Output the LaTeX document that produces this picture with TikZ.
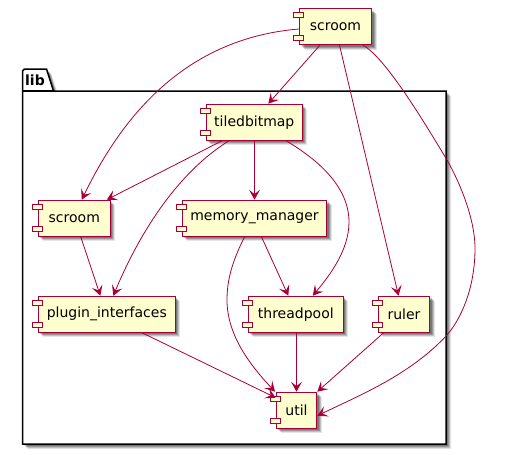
\documentclass[tikz,border=0pt]{standalone}
\usepackage{fontspec}
\setmainfont{DejaVu Sans}
\usetikzlibrary{arrows.meta,calc,shadows}
\definecolor{umlred}{HTML}{A80036}
\definecolor{umlfill}{HTML}{FEFECE}
\tikzset{
  softshadow/.style={
    general shadow={shadow xshift=2pt,shadow yshift=-2pt,fill=black,opacity=0.22},
    general shadow={shadow xshift=3pt,shadow yshift=-3pt,fill=black,opacity=0.2},
    general shadow={shadow xshift=4pt,shadow yshift=-4pt,fill=black,opacity=0.16},
    general shadow={shadow xshift=5pt,shadow yshift=-5pt,fill=black,opacity=0.1}},
  comp/.style={draw=umlred,fill=umlfill,line width=1.2pt,inner sep=0pt,
    minimum height=36pt,softshadow},
  comptab/.style={draw=umlred,fill=umlfill,line width=0.9pt},
  dep/.style={draw=umlred,line width=0.8pt,-{Stealth[length=10pt,width=11pt,inset=4.5pt]}},
}

\begin{document}
\begin{tikzpicture}[x=1pt,y=-1pt,font=\fontsize{14}{16}\selectfont]
  \useasboundingbox (0,0) rectangle (522,455);
  % package lib, tab first and then the line under it
  \draw[line width=1.5pt,fill=white,softshadow] (22.5,91) -- (22.5,71) -- (24.5,69) -- (46.5,69)
    -- (53.5,91) -- (446,91) -- (446,444) -- (22.5,444) -- cycle;
  \draw[line width=1.5pt] (22.5,91) -- (53.5,91);
  \node[font=\fontsize{14}{16}\selectfont\bfseries] (libname) at (35,80.5) {lib};
  % components: name/center x/center y/width/label
  \foreach \nm/\cx/\cy/\bw/\lb in {scroomtop/335.5/26.5/72/scroom,
      tiledbitmap/254.3/122.3/96/tiledbitmap,
      scroomlib/74.3/218.3/72/scroom,
      memorymanager/254.5/218.3/144.4/memory\_manager,
      plugininterfaces/106.8/314.3/137/plugin\_interfaces,
      threadpool/295.8/314.3/95/threadpool,
      ruler/404/314.3/51.4/ruler,
      util/296.5/410.3/40.4/util}
    \node[comp,minimum width=\bw pt] (\nm) at (\cx,\cy) {\lb};
  % the two small tabs on the left side
  \foreach \nm in {scroomtop,tiledbitmap,scroomlib,memorymanager,
      plugininterfaces,threadpool,ruler,util} {
    \draw[comptab] ([shift={(-5,5)}]\nm.north west) rectangle ++(10,5);
    \draw[comptab] ([shift={(-5,-10)}]\nm.south west) rectangle ++(10,5);
  }
  % dependencies, straight ones
  \draw[dep] ([xshift=-15.5pt]scroomtop.south) -- ([xshift=14pt]tiledbitmap.north);
  \draw[dep] ([xshift=4pt]scroomtop.south) -- ([xshift=-5.5pt]ruler.north);
  \draw[dep] ([xshift=-32.5pt]tiledbitmap.south) -- ([xshift=32.5pt]scroomlib.north);
  \draw[dep] ([xshift=0.2pt]tiledbitmap.south) -- (memorymanager.north);
  \draw[dep] ([xshift=6.5pt]scroomlib.south) -- ([xshift=-6.5pt]plugininterfaces.north);
  \draw[dep] ([xshift=7pt]memorymanager.south) -- ([xshift=-7.5pt]threadpool.north);
  \draw[dep] ([xshift=35.5pt]plugininterfaces.south) -- ([yshift=-6pt]util.north west);
  \draw[dep] ([xshift=0.7pt]threadpool.south) -- (util.north);
  \draw[dep] ([xshift=-20.5pt]ruler.south) -- (util.north east);
  % dependencies, curved ones
  \draw[dep] ([yshift=-2.5pt]scroomtop.west) .. controls (190,38) and (125,110)
    .. ([xshift=7.5pt]scroomlib.north);
  \draw[dep] ([xshift=-25.5pt]tiledbitmap.south) .. controls (185,168) and (145,220)
    .. ([xshift=6.5pt]plugininterfaces.north);
  \draw[dep] ([xshift=32pt]tiledbitmap.south) .. controls (315,158) and (349,185) .. (349,222)
    .. controls (349,250) and (330,275) .. ([xshift=17pt]threadpool.north);
  \draw[dep] ([xshift=-10pt]memorymanager.south) .. controls (232,262) and (227,280) .. (227,300)
    .. controls (227,335) and (250,365) .. ([xshift=-21.5pt]util.north);
  \draw[dep] ([xshift=27.5pt]scroomtop.south) .. controls (385,58) and (420,115) .. (447,160)
    .. controls (465,192) and (475,225) .. (475,248)
    .. controls (475,290) and (460,320) .. (447,335)
    .. controls (410,375) and (360,395) .. ([yshift=-5.5pt]util.east);
\end{tikzpicture}
\end{document}
